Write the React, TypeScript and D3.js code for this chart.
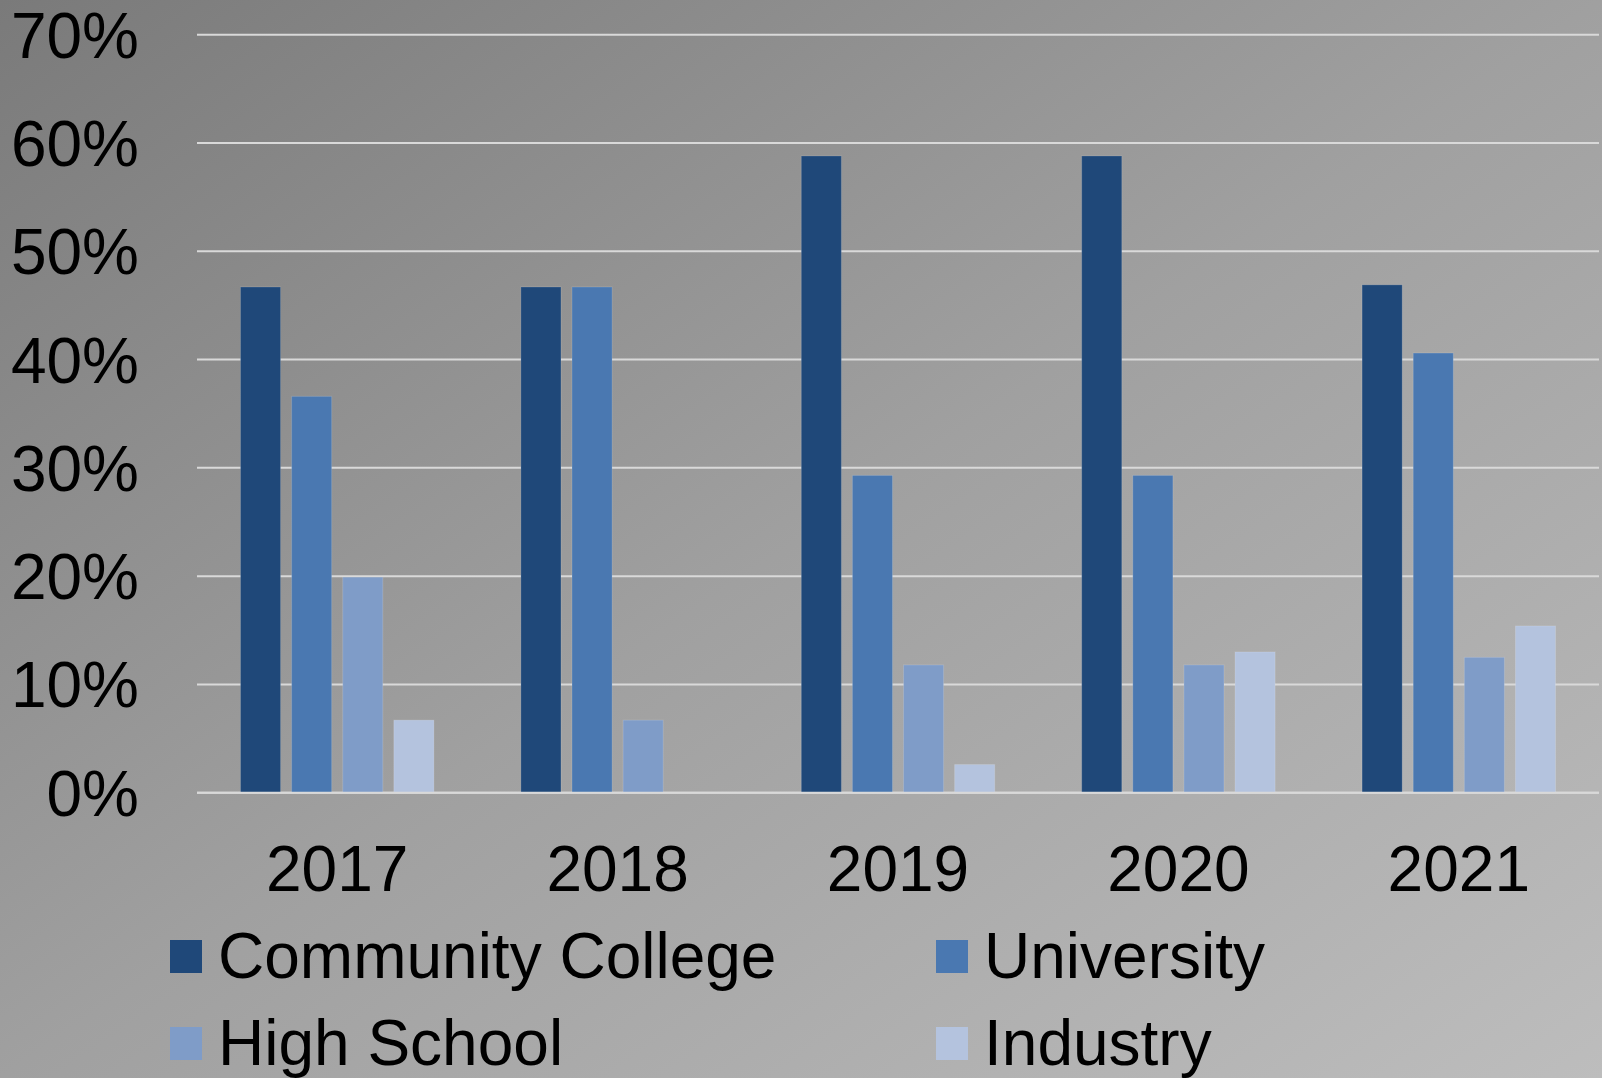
import React from "react";
import * as d3 from "d3";

const categories = ["2017", "2018", "2019", "2020", "2021"];
const seriesNames = ["Community College", "University", "High School", "Industry"];
const communityCollege = [46.7, 46.7, 58.8, 58.8, 46.9];
const university = [36.6, 46.7, 29.3, 29.3, 40.6];
const highSchool = [19.9, 6.7, 11.8, 11.8, 12.5];
const industry = [6.7, 0, 2.6, 13.0, 15.4];
const seriesValues = [communityCollege, university, highSchool, industry];
const seriesColors = ["#1f4879", "#4a78b1", "#7f9cc8", "#b4c3de"];
const yTicks = [0, 10, 20, 30, 40, 50, 60, 70];

const W = 1602;
const H = 1078;
const plotLeft = 197;
const plotRight = 1599;
const plotTop = 34.7;
const plotBottom = 792.7;
const FONT = "'Liberation Sans', Arial, sans-serif";

export default function App() {
  const x0 = d3.scaleBand<string>().domain(categories).range([plotLeft, plotRight]).padding(0);
  const groupPad = 43.5;
  const x1 = d3
    .scaleBand<string>()
    .domain(seriesNames)
    .range([groupPad, x0.bandwidth() - groupPad])
    .paddingInner(0.216)
    .paddingOuter(0);
  const y = d3.scaleLinear().domain([0, 70]).range([plotBottom, plotTop]);

  const legendItems = seriesNames.map((name, i) => ({
    name,
    color: seriesColors[i],
    col: i % 2,
    row: Math.floor(i / 2),
  }));
  const legendColX = [170, 936];
  const legendRowY = [940, 1027];

  return (
    <svg
      width={W}
      height={H}
      viewBox={`0 0 ${W} ${H}`}
      style={{ position: "absolute", left: 0, top: 0, display: "block" }}
    >
      <defs>
        <linearGradient id="bg" x1="0" y1="0" x2="1" y2="1">
          <stop offset="0%" stopColor="#7a7a7a" />
          <stop offset="50%" stopColor="#a0a0a0" />
          <stop offset="100%" stopColor="#bdbdbd" />
        </linearGradient>
      </defs>
      <rect x={0} y={0} width={W} height={H} fill="url(#bg)" />

      {yTicks.map((t) => (
        <line
          key={"g" + t}
          x1={plotLeft}
          x2={plotRight}
          y1={y(t)}
          y2={y(t)}
          stroke="#d9d9d9"
          strokeWidth={2}
        />
      ))}

      {yTicks.map((t) => (
        <text
          key={"yl" + t}
          x={139}
          y={y(t) + 23}
          textAnchor="end"
          fontFamily={FONT}
          fontSize={64}
          fill="#000"
        >
          {t + "%"}
        </text>
      ))}

      {categories.map((c, ci) => (
        <g key={c} transform={`translate(${x0(c)},0)`}>
          {seriesNames.map((s, si) => {
            const v = seriesValues[si][ci];
            if (v <= 0) return null;
            return (
              <rect
                key={s}
                x={x1(s)}
                y={y(v)}
                width={x1.bandwidth()}
                height={y(0) - y(v)}
                fill={seriesColors[si]}
                stroke="rgba(255,255,255,0.15)"
                strokeWidth={1}
              />
            );
          })}
        </g>
      ))}

      <line x1={plotLeft} x2={plotRight} y1={y(0)} y2={y(0)} stroke="#d9d9d9" strokeWidth={2} />

      {categories.map((c) => (
        <text
          key={"xl" + c}
          x={(x0(c) as number) + x0.bandwidth() / 2}
          y={891}
          textAnchor="middle"
          fontFamily={FONT}
          fontSize={64}
          fill="#000"
        >
          {c}
        </text>
      ))}

      {legendItems.map((it) => (
        <g key={it.name}>
          <rect
            x={legendColX[it.col]}
            y={legendRowY[it.row]}
            width={32}
            height={33}
            fill={it.color}
          />
          <text
            x={legendColX[it.col] + 48}
            y={legendRowY[it.row] + 38}
            fontFamily={FONT}
            fontSize={64}
            fill="#000"
          >
            {it.name}
          </text>
        </g>
      ))}
    </svg>
  );
}
